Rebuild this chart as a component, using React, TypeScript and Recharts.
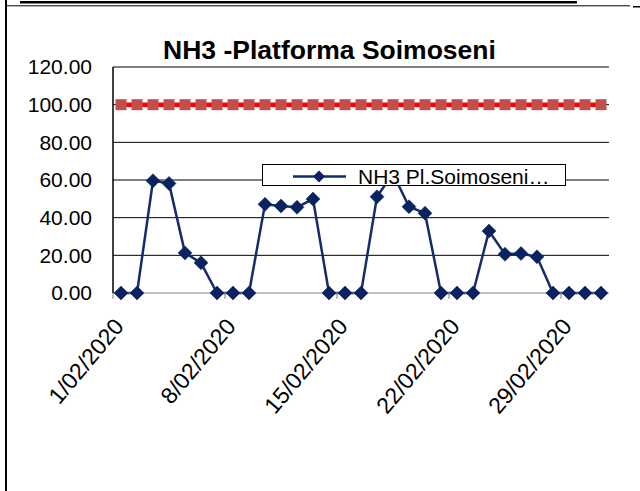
import React from 'react';
import { LineChart, Line, XAxis, YAxis, ReferenceLine, Legend } from 'recharts';

const FONT = '"Liberation Sans", Arial, sans-serif';

const title = 'NH3 -Platforma Soimoseni';
const seriesName = 'NH3 Pl.Soimoseni…';

const dates = [
  '1/02/2020', '2/02/2020', '3/02/2020', '4/02/2020', '5/02/2020', '6/02/2020', '7/02/2020',
  '8/02/2020', '9/02/2020', '10/02/2020', '11/02/2020', '12/02/2020', '13/02/2020', '14/02/2020',
  '15/02/2020', '16/02/2020', '17/02/2020', '18/02/2020', '19/02/2020', '20/02/2020', '21/02/2020',
  '22/02/2020', '23/02/2020', '24/02/2020', '25/02/2020', '26/02/2020', '27/02/2020', '28/02/2020',
  '29/02/2020', '1/03/2020', '2/03/2020',
];

const nh3Values = [
  0, 0, 59.6, 58.2, 21.3, 16.0, 0,
  0, 0, 47.1, 46.2, 45.5, 49.9, 0,
  0, 0, 51.1, 63.5, 45.8, 42.4, 0,
  0, 0, 32.9, 20.6, 21.0, 19.2, 0,
  0, 0, 0,
];

const limitValues = [
  100, 100, 100, 100, 100, 100, 100,
  100, 100, 100, 100, 100, 100, 100,
  100, 100, 100, 100, 100, 100, 100,
  100, 100, 100, 100, 100, 100, 100,
  100, 100, 100,
];

const yTicks = [0, 20, 40, 60, 80, 100, 120];
const gridValues = [20, 40, 60, 80, 100, 120];
const xTickIndices = [0, 7, 14, 21, 28];

const data = dates.map((d, i) => ({
  x: i + 0.5,
  date: d,
  nh3: nh3Values[i],
  limit: limitValues[i],
}));

const NAVY = '#0B2260';
const NAVY_LINE = '#132c6a';

const Diamond = (p: any) => {
  const { cx, cy, index } = p;
  if (cx == null || cy == null) return <g key={`d-${index}`} />;
  const s = 7;
  return (
    <polygon
      key={`d-${index}`}
      points={`${cx},${cy - s} ${cx + s},${cy} ${cx},${cy + s} ${cx - s},${cy}`}
      fill={NAVY}
      stroke={NAVY}
      strokeWidth={0.5}
    />
  );
};

const Square = (p: any) => {
  const { cx, cy, index } = p;
  if (cx == null || cy == null) return <g key={`s-${index}`} />;
  const s = 5.5;
  return <rect key={`s-${index}`} x={cx - s} y={cy - s} width={2 * s} height={2 * s} fill="#C0504D" />;
};

const XTick = (props: any) => {
  const { x, y, payload } = props;
  const ax = x + 12;
  const ay = y + 28;
  return (
    <text
      x={ax}
      y={ay}
      textAnchor="end"
      transform={`rotate(-50 ${ax} ${ay})`}
      fontSize={23}
      fontFamily={FONT}
      fill="#000"
    >
      {dates[payload.value]}
    </text>
  );
};

const LegendBox = () => (
  <svg width={302} height={20} style={{ display: 'block', overflow: 'visible' }}>
    <line x1={30} y1={11.5} x2={83} y2={11.5} stroke={NAVY_LINE} strokeWidth={2.5} />
    <polygon points="56,5.5 62,11.5 56,17.5 50,11.5" fill={NAVY} />
    <text x={95} y={18.5} fontSize={21} fontFamily={FONT} fill="#000">
      {seriesName}
    </text>
  </svg>
);

export default function App() {
  return (
    <div
      style={{
        position: 'absolute',
        left: 0,
        top: 0,
        width: 640,
        height: 491,
        background: '#fff',
        overflow: 'hidden',
      }}
    >
      <LineChart
        width={640}
        height={491}
        data={data}
        margin={{ top: 67, right: 31, left: 0, bottom: 138 }}
      >
        {gridValues.map((v) => (
          <ReferenceLine key={v} y={v} stroke="#000" strokeWidth={1} ifOverflow="extendDomain" />
        ))}
        <XAxis
          dataKey="x"
          type="number"
          domain={[0, 31]}
          ticks={xTickIndices}
          interval={0}
          height={60}
          axisLine={{ stroke: '#808080', strokeWidth: 1.2 }}
          tickLine={{ stroke: '#808080' }}
          tickSize={6}
          tickMargin={0}
          tick={<XTick />}
        />
        <YAxis
          type="number"
          domain={[0, 120]}
          ticks={yTicks}
          interval={0}
          width={113}
          axisLine={{ stroke: '#000', strokeWidth: 1.5 }}
          tickLine={false}
          tickSize={0}
          tickMargin={21}
          tickFormatter={(v: number) => v.toFixed(2)}
          tick={{ fill: '#000', fontSize: 21, fontFamily: FONT }}
        />
        <Line
          dataKey="limit"
          stroke="#FF0000"
          strokeWidth={4.5}
          dot={Square}
          activeDot={false}
          isAnimationActive={false}
          legendType="none"
        />
        <Line
          dataKey="nh3"
          name={seriesName}
          stroke={NAVY_LINE}
          strokeWidth={2.5}
          dot={Diamond}
          activeDot={false}
          isAnimationActive={false}
        />
        <Legend
          layout="horizontal"
          verticalAlign="middle"
          align="center"
          width={304}
          height={22}
          content={() => <LegendBox />}
          wrapperStyle={{
            left: 262,
            top: 164,
            width: 304,
            height: 22,
            border: '1px solid #000',
            background: '#fff',
            boxSizing: 'border-box',
            overflow: 'visible',
          }}
        />
      </LineChart>
      <svg
        width={640}
        height={491}
        style={{ position: 'absolute', left: 0, top: 0, pointerEvents: 'none' }}
      >
        <rect x={5} y={0} width={2} height={491} fill="#000" />
        <rect x={20} y={1} width={557} height={2.5} fill="#000" />
        <rect x={7} y={5.3} width={623} height={1} fill="#000" />
        <rect x={633} y={6} width={7} height={1.5} fill="#000" />
        <text
          x={329.5}
          y={58.5}
          textAnchor="middle"
          fontSize={26.5}
          fontWeight="bold"
          fontFamily={FONT}
          fill="#000"
        >
          {title}
        </text>
      </svg>
    </div>
  );
}
